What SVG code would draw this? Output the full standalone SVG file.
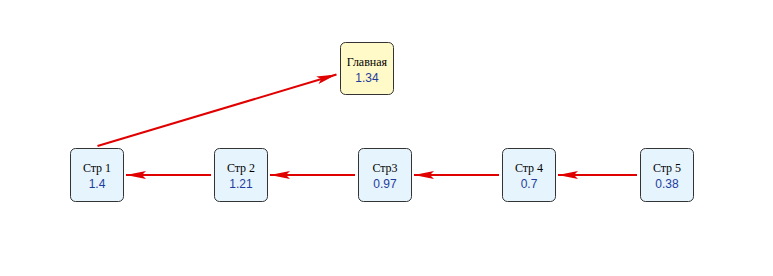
<svg xmlns="http://www.w3.org/2000/svg" width="773" height="276" viewBox="0 0 773 276">
<style>
.box{fill:#e6f4fd;stroke:#333;stroke-width:1}
.main{fill:#fffac8;stroke:#333;stroke-width:1}
.t1{font-family:"Liberation Serif",serif;font-size:12px;fill:#000;text-anchor:middle}
.t2{font-family:"Liberation Sans",sans-serif;font-size:12px;fill:#1e3c9c;text-anchor:middle}
.edge{stroke:#e00000;stroke-width:2;fill:none;marker-end:url(#arr)}
</style>
<defs>
<marker id="arr" viewBox="0 0 20 8" refX="20" refY="4" markerWidth="20" markerHeight="8" markerUnits="userSpaceOnUse" orient="auto">
<path d="M0,0 L20,4 L0,8 L4,4 Z" fill="#e00000"/>
</marker>
</defs>
<rect width="773" height="276" fill="#fff"/>
<g id="connectors">
<line class="edge" x1="97.5" y1="146" x2="336.5" y2="74.5"/>
<line class="edge" x1="211" y1="175" x2="126" y2="175"/>
<line class="edge" x1="355" y1="175" x2="270" y2="175"/>
<line class="edge" x1="499" y1="175" x2="414" y2="175"/>
<line class="edge" x1="637" y1="175" x2="558" y2="175"/>
</g>
<g id="main">
<rect class="main" x="340.5" y="42.5" width="53" height="52" rx="5"/>
<text class="t1" x="367" y="66">Главная</text>
<text class="t2" x="367" y="82">1.34</text>
</g>
<g id="p1">
<rect class="box" x="70.5" y="148.5" width="53" height="53" rx="5"/>
<text class="t1" x="97" y="172">Стр 1</text>
<text class="t2" x="97" y="188">1.4</text>
</g>
<g id="p2">
<rect class="box" x="214.5" y="148.5" width="53" height="53" rx="5"/>
<text class="t1" x="241" y="172">Стр 2</text>
<text class="t2" x="241" y="188">1.21</text>
</g>
<g id="p3">
<rect class="box" x="358.5" y="148.5" width="53" height="53" rx="5"/>
<text class="t1" x="385" y="172">Стр3</text>
<text class="t2" x="385" y="188">0.97</text>
</g>
<g id="p4">
<rect class="box" x="502.5" y="148.5" width="53" height="53" rx="5"/>
<text class="t1" x="529" y="172">Стр 4</text>
<text class="t2" x="529" y="188">0.7</text>
</g>
<g id="p5">
<rect class="box" x="640.5" y="148.5" width="53" height="53" rx="5"/>
<text class="t1" x="667" y="172">Стр 5</text>
<text class="t2" x="667" y="188">0.38</text>
</g>
</svg>
